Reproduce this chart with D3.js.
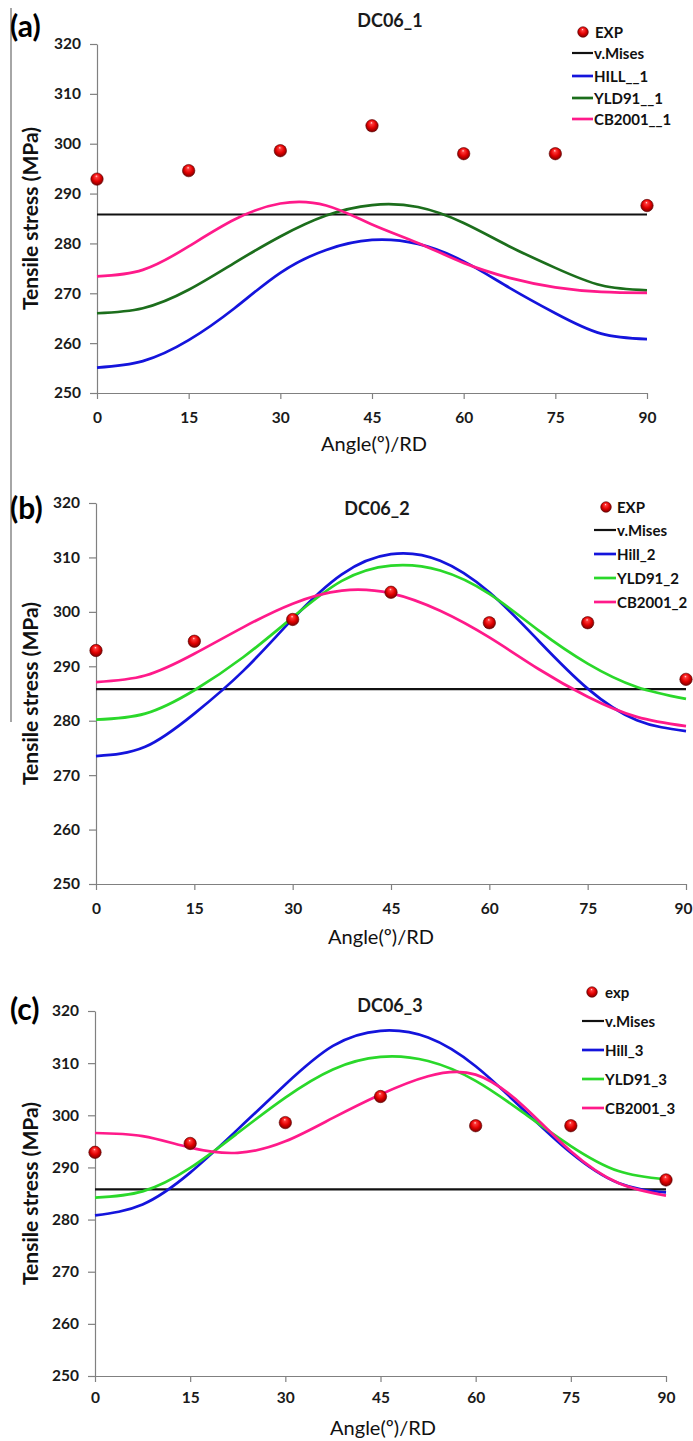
<!DOCTYPE html>
<html><head><meta charset="utf-8">
<script src="https://cdn.jsdelivr.net/npm/d3@7"></script>
<style>
body{margin:0;background:#fff}
svg{display:block}
text{font-family:Lato,"Open Sans","DejaVu Sans",sans-serif}
</style>
</head><body>
<svg id="chart" width="693" height="1441"></svg>
<script>
// ---------- DATA ----------
const expAngles = [0, 15, 30, 45, 60, 75, 90];
const expValues = [292.9, 294.6, 298.6, 303.6, 298.0, 298.0, 287.6];
const curveAngles = [0, 7.5, 15, 22.5, 30, 37.5, 45, 52.5, 60, 67.5, 75, 82.5, 90];
const vMisesValue = 285.8;

const hill1 = [255.1, 256.4, 260.6, 267.0, 274.1, 278.7, 280.7, 279.9, 276.4, 271.1, 266.0, 261.9, 260.8];
const yld1  = [266.0, 267.0, 270.7, 276.1, 281.4, 285.6, 287.7, 287.3, 284.1, 279.4, 275.1, 271.6, 270.6];
const cb1   = [273.4, 274.7, 279.4, 284.8, 288.0, 287.6, 283.8, 280.1, 276.1, 273.1, 271.2, 270.3, 270.1];

const hill2 = [273.5, 275.2, 281.3, 289.2, 298.7, 306.9, 310.6, 309.4, 303.6, 294.7, 285.9, 280.1, 278.1];
const yld2  = [280.2, 281.3, 285.6, 291.7, 299.0, 305.7, 308.5, 307.6, 303.3, 296.6, 290.5, 286.2, 284.0];
const cb2   = [287.1, 288.3, 292.3, 297.2, 301.5, 303.9, 303.4, 300.2, 295.3, 289.5, 284.4, 280.7, 279.0];

const hill3 = [280.8, 282.9, 289.0, 297.3, 305.9, 313.3, 316.2, 314.9, 309.4, 301.1, 292.8, 287.0, 285.2];
const yld3  = [284.2, 285.4, 289.9, 296.6, 303.4, 308.8, 311.2, 310.4, 306.6, 300.5, 294.1, 289.3, 287.7];
const cb3   = [296.6, 296.0, 293.8, 292.8, 295.0, 299.5, 304.0, 307.5, 307.8, 301.8, 293.1, 287.0, 284.6];

const xTicks = [0, 15, 30, 45, 60, 75, 90];
const yTicks = [250, 260, 270, 280, 290, 300, 310, 320];
const yDomain = [250, 320];
const xDomain = [0, 90];

const panelLabels = ["(a)", "(b)", "(c)"];
const panelTitles = ["DC06_1", "DC06_2", "DC06_3"];
const legendNames = [
  ["EXP", "v.Mises", "HILL__1", "YLD91__1", "CB2001__1"],
  ["EXP", "v.Mises", "Hill_2", "YLD91_2", "CB2001_2"],
  ["exp", "v.Mises", "Hill_3", "YLD91_3", "CB2001_3"]
];
const yTitle = "Tensile stress (MPa)";
const xTitle = "Angle(º)/RD";

// ---------- STYLE / LAYOUT ----------
const colBlue = "#1414dc", colPink = "#ff1a8a", colDarkGreen = "#1c6e1c", colGreen = "#2ad82a";
const panels = [
  {x0: 97, x1: 647, yTop: 44, yBot: 393, titleX: 390, titleY: 20, labelY: 25,
   legLine: [572, 593], legMarkerX: 583, legExpTextX: 595, legY: [32, 53, 76, 98, 119],
   tickLabelOff: 24, xTitleOff: 50, xTitleX: 374,
   curves: [hill1, yld1, cb1], colors: [colBlue, colDarkGreen, colPink]},
  {x0: 96, x1: 686, yTop: 503, yBot: 884, titleX: 377, titleY: 508, labelY: 507,
   legLine: [594, 616], legMarkerX: 606, legExpTextX: 617, legY: [507, 530, 554, 578, 602],
   tickLabelOff: 24, xTitleOff: 52, xTitleX: 381,
   curves: [hill2, yld2, cb2], colors: [colBlue, colGreen, colPink]},
  {x0: 95, x1: 666, yTop: 1011, yBot: 1376, titleX: 390, titleY: 1005, labelY: 1008,
   legLine: [582, 604], legMarkerX: 592, legExpTextX: 605, legY: [992, 1021, 1050, 1079, 1108],
   tickLabelOff: 21, xTitleOff: 51, xTitleX: 383,
   curves: [hill3, yld3, cb3], colors: [colBlue, colGreen, colPink]}
];

const svg = d3.select("#chart");

// sphere gradient
const defs = svg.append("defs");
const grad = defs.append("radialGradient").attr("id", "sphere")
  .attr("cx", "50%").attr("cy", "45%").attr("r", "55%").attr("fx", "45%").attr("fy", "25%");
grad.append("stop").attr("offset", "0%").attr("stop-color", "#ffe0e0");
grad.append("stop").attr("offset", "18%").attr("stop-color", "#ff3a3a");
grad.append("stop").attr("offset", "60%").attr("stop-color", "#e00000");
grad.append("stop").attr("offset", "100%").attr("stop-color", "#7a0000");

// left border line
svg.append("line").attr("x1", 11).attr("x2", 11).attr("y1", 8).attr("y2", 722)
  .attr("stroke", "#888").attr("stroke-width", 1.5);

panels.forEach((p, i) => {
  const g = svg.append("g");
  const x = d3.scaleLinear().domain(xDomain).range([p.x0, p.x1]);
  const y = d3.scaleLinear().domain(yDomain).range([p.yBot, p.yTop]);

  // axes
  const ya = g.append("g").attr("transform", `translate(${p.x0},0)`)
    .call(d3.axisLeft(y).tickValues(yTicks).tickSize(7).tickPadding(9).tickSizeOuter(0));
  const xa = g.append("g").attr("transform", `translate(0,${p.yBot})`)
    .call(d3.axisBottom(x).tickValues(xTicks).tickSize(6).tickPadding(p.tickLabelOff - 11.5).tickSizeOuter(0));
  [ya, xa].forEach(a => {
    a.select(".domain").attr("stroke", "#808080").attr("stroke-width", 1.2);
    a.selectAll(".tick line").attr("stroke", "#808080").attr("stroke-width", 1.2);
    a.selectAll(".tick text").attr("font-size", 15.5).attr("font-weight", "bold")
      .attr("fill", "#1a1a1a").style("font-family", "Lato, sans-serif");
  });
  // keep the last x label inside the page
  if (p.x1 > 680) xa.selectAll(".tick text").filter(d => d === 90).attr("dx", -3);

  // v.Mises
  g.append("line").attr("x1", x(0)).attr("x2", x(90))
    .attr("y1", y(vMisesValue)).attr("y2", y(vMisesValue))
    .attr("stroke", "#111").attr("stroke-width", 2.2);

  // model curves
  const line = d3.line().x((d, k) => x(curveAngles[k])).y(d => y(d)).curve(d3.curveNatural);
  p.curves.forEach((c, k) => {
    g.append("path").datum(c).attr("d", line).attr("fill", "none")
      .attr("stroke", p.colors[k]).attr("stroke-width", 2.7);
  });

  // exp points
  g.selectAll("circle.exp").data(expValues).enter().append("circle")
    .attr("class", "exp")
    .attr("cx", (d, k) => x(expAngles[k])).attr("cy", d => y(d)).attr("r", 6.2)
    .attr("fill", "url(#sphere)").attr("stroke", "#5a0000").attr("stroke-width", 0.6);

  // panel label
  g.append("text").attr("x", 10).attr("y", p.labelY).attr("dominant-baseline", "central")
    .attr("font-size", 30).attr("font-weight", "bold").attr("fill", "#000").text(panelLabels[i]);

  // title
  g.append("text").attr("x", p.titleX).attr("y", p.titleY).attr("dominant-baseline", "central")
    .attr("text-anchor", "middle").attr("font-size", 18).attr("font-weight", "bold")
    .attr("fill", "#1a1a1a").text(panelTitles[i]);

  // y title
  const cy = (p.yTop + p.yBot) / 2;
  g.append("text").attr("transform", `translate(38,${cy}) rotate(-90)`)
    .attr("text-anchor", "middle").attr("font-size", 21).attr("font-weight", "bold")
    .attr("fill", "#111").text(yTitle);

  // x title
  g.append("text").attr("x", p.xTitleX).attr("y", p.yBot + p.xTitleOff)
    .attr("dominant-baseline", "central").attr("text-anchor", "middle")
    .attr("font-size", 20).attr("fill", "#111").text(xTitle);

  // legend
  const L = p.legLine, names = legendNames[i];
  const legColors = ["#111", "#111"].concat(p.colors);
  names.forEach((n, k) => {
    const ly = p.legY[k];
    if (k === 0) {
      g.append("circle").attr("cx", p.legMarkerX).attr("cy", ly).attr("r", 5.3)
        .attr("fill", "url(#sphere)").attr("stroke", "#5a0000").attr("stroke-width", 0.6);
      g.append("text").attr("x", p.legExpTextX).attr("y", ly).attr("dominant-baseline", "central")
        .attr("font-size", 15).attr("font-weight", "bold").attr("fill", "#111").text(n);
    } else {
      g.append("line").attr("x1", L[0]).attr("x2", L[1]).attr("y1", ly).attr("y2", ly)
        .attr("stroke", legColors[k]).attr("stroke-width", k === 1 ? 2.2 : 2.7);
      g.append("text").attr("x", L[1] + 1).attr("y", ly).attr("dominant-baseline", "central")
        .attr("font-size", 15).attr("font-weight", "bold").attr("fill", "#111").text(n);
    }
  });
});
</script>
</body></html>
